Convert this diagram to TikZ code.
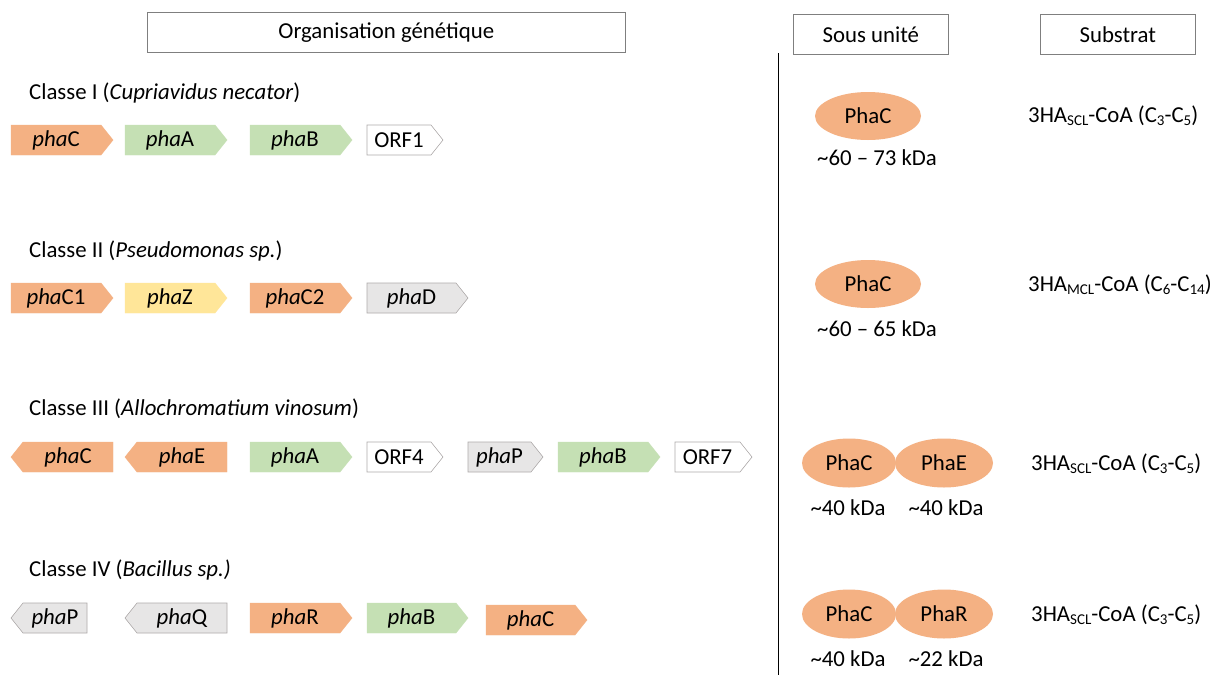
\documentclass[tikz,border=0pt]{standalone}
\usepackage{fontspec}
\setmainfont{Carlito}
\usetikzlibrary{shapes.geometric}
\definecolor{orng}{HTML}{F4B183}
\definecolor{grn}{HTML}{C5E0B4}
\definecolor{yel}{HTML}{FFE699}
\definecolor{gry}{HTML}{E7E6E6}
\definecolor{edge}{HTML}{AFABAB}
\definecolor{hdr}{HTML}{7F7F7F}
\tikzset{
  every node/.style={font=\fontsize{22.8}{26}\selectfont, inner sep=0pt},
  genetext/.style={anchor=center},
  orangegene/.style={fill=orng, draw=orng},
  greengene/.style={fill=grn, draw=grn},
  yellowgene/.style={fill=yel, draw=yel},
  graygene/.style={fill=gry, draw=edge, line width=0.6pt},
  whitegene/.style={fill=white, draw=edge, line width=0.6pt},
  header/.style={draw=hdr, line width=0.6pt, minimum height=40pt, anchor=north west},
  subunit/.style={ellipse, fill=orng, inner sep=0pt},
  classlabel/.style={anchor=west},
}
\newcommand\geneR[6]{%
  \draw[#5] (#2,#4-15) -- (#3-12,#4-15) -- (#3,#4) -- (#3-12,#4+15) -- (#2,#4+15) -- cycle;
  \node[genetext] (#1) at ({(#2+#3-12)/2},#4) {#6};}
\newcommand\geneL[6]{%
  \draw[#5] (#2,#4) -- (#2+12,#4-15) -- (#3,#4-15) -- (#3,#4+15) -- (#2+12,#4+15) -- cycle;
  \node[genetext] (#1) at ({(#2+12+#3)/2},#4) {#6};}
\newcommand\pha[1]{\textit{pha}#1}
\newcommand\sbs[1]{\raisebox{-0.25ex}{\fontsize{15}{15}\selectfont #1}}
\begin{document}
\begin{tikzpicture}[x=1pt,y=-1pt]
\useasboundingbox[fill=white] (0,0) rectangle (1220,675);

% headers
\node[header, minimum width=478pt] (hgen) at (147,12) {Organisation génétique};
\node[header, minimum width=155pt] (hsub) at (793,14) {Sous unité};
\node[header, minimum width=155pt] (hsubs) at (1040,14) {Substrat};

% vertical separator
\coordinate (vtop) at (778,53);
\coordinate (vbot) at (778,675);
\draw[line width=0.8pt] (vtop) -- (vbot);

% class labels
\node[classlabel] (c1) at (29,93) {Classe I (\textit{Cupriavidus necator})};
\node[classlabel] (c2) at (29,251) {Classe II (\textit{Pseudomonas sp.})};
\node[classlabel] (c3) at (29,409) {Classe III (\textit{Allochromatium vinosum})};
\node[classlabel] (c4) at (29,570) {Classe IV (\textit{Bacillus sp.)}};

% row 1
\geneR{r1a}{11}{113}{140}{orangegene}{\pha{C}}
\geneR{r1b}{125}{227}{140}{greengene}{\pha{A}}
\geneR{r1c}{250}{352}{140}{greengene}{\pha{B}}
\geneR{r1d}{367}{443}{140}{whitegene}{ORF1}

% row 2
\geneR{r2a}{11}{113}{298}{orangegene}{\pha{C1}}
\geneR{r2b}{125}{227}{298}{yellowgene}{\pha{Z}}
\geneR{r2c}{250}{352}{298}{orangegene}{\pha{C2}}
\geneR{r2d}{367}{468}{298}{graygene}{\pha{D}}

% row 3
\geneL{r3a}{11}{113}{457}{orangegene}{\pha{C}}
\geneL{r3b}{125}{227}{457}{orangegene}{\pha{E}}
\geneR{r3c}{250}{352}{457}{greengene}{\pha{A}}
\geneR{r3d}{367}{443}{457}{whitegene}{ORF4}
\geneR{r3e}{468}{543}{457}{graygene}{\pha{P}}
\geneR{r3f}{558}{660}{457}{greengene}{\pha{B}}
\geneR{r3g}{675}{752}{457}{whitegene}{ORF7}

% row 4
\geneL{r4a}{11}{87}{618}{graygene}{\pha{P}}
\geneL{r4b}{125}{227}{618}{graygene}{\pha{Q}}
\geneR{r4c}{250}{352}{618}{orangegene}{\pha{R}}
\geneR{r4d}{367}{468}{618}{greengene}{\pha{B}}
\geneR{r4e}{486}{587}{620}{orangegene}{\pha{C}}

% subunits
\node[subunit, minimum width=106pt, minimum height=48pt] (s1) at (868,116) {PhaC};
\node (k1) at (877,158) {\textasciitilde60 -- 73 kDa};
\node[subunit, minimum width=106pt, minimum height=48pt] (s2) at (868,284) {PhaC};
\node (k2) at (877,329) {\textasciitilde60 -- 65 kDa};

\node[subunit, minimum width=94pt, minimum height=49pt] (s3a) at (849,463) {PhaC};
\node[subunit, minimum width=98pt, minimum height=49pt] (s3b) at (944,463) {PhaE};
\node (k3a) at (848,508) {\textasciitilde40 kDa};
\node (k3b) at (946,508) {\textasciitilde40 kDa};

\node[subunit, minimum width=94pt, minimum height=49pt] (s4a) at (849,614) {PhaC};
\node[subunit, minimum width=98pt, minimum height=49pt] (s4b) at (944,614) {PhaR};
\node (k4a) at (848,659) {\textasciitilde40 kDa};
\node (k4b) at (946,659) {\textasciitilde22 kDa};

% substrates
\node[anchor=west] (t1) at (1028,116) {3HA\sbs{SCL}-CoA (C\sbs{3}-C\sbs{5})};
\node[anchor=west] (t2) at (1028,285) {3HA\sbs{MCL}-CoA (C\sbs{6}-C\sbs{14})};
\node[anchor=west] (t3) at (1031,464) {3HA\sbs{SCL}-CoA (C\sbs{3}-C\sbs{5})};
\node[anchor=west] (t4) at (1031,615) {3HA\sbs{SCL}-CoA (C\sbs{3}-C\sbs{5})};
\end{tikzpicture}
\end{document}
